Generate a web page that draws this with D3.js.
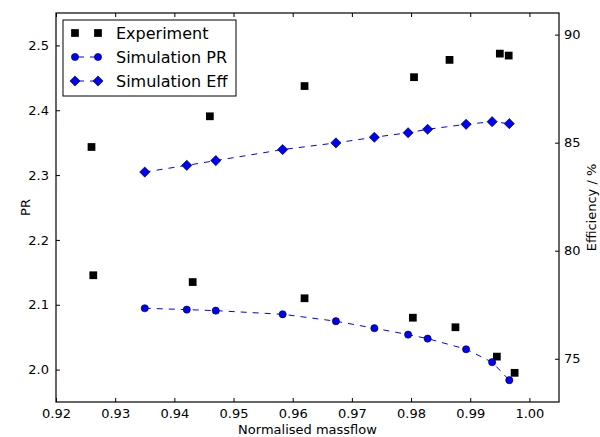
<!DOCTYPE html>
<html>
<head>
<meta charset="utf-8">
<script src="https://d3js.org/d3.v7.min.js"></script>
<style>
  body { margin: 0; background: #fff; }
  svg text { font-family: "DejaVu Sans", sans-serif; fill: #000; }
  .axis path, .axis line { stroke: #000; }
</style>
</head>
<body>
<div id="chart"></div>
<script>
// Experiment points (PR on left axis, efficiency on right axis)
var expPRFlow = [0.9263, 0.9431, 0.9620, 0.9803, 0.9875, 0.9945, 0.9975];
var expPR     = [2.1455, 2.135, 2.110, 2.080, 2.0653, 2.020, 1.995];
var expEffFlow = [0.9260, 0.9460, 0.9620, 0.9805, 0.9865, 0.9950, 0.9965];
var expEff     = [84.80, 86.22, 87.62, 88.03, 88.83, 89.12, 89.03];

// Simulation points
var simFlow = [0.9350, 0.9421, 0.9470, 0.9583, 0.9673, 0.9738, 0.9795, 0.9828, 0.9893, 0.9937, 0.9966];
var simPR   = [2.0946, 2.0925, 2.0909, 2.0853, 2.0746, 2.0638, 2.0540, 2.0478, 2.0314, 2.0114, 1.9837];
var simEff  = [83.64, 83.95, 84.17, 84.68, 84.99, 85.25, 85.46, 85.62, 85.85, 85.97, 85.88];

var xTicks = [0.92, 0.93, 0.94, 0.95, 0.96, 0.97, 0.98, 0.99, 1.00];
var prTicks = [2.0, 2.1, 2.2, 2.3, 2.4, 2.5];
var effTicks = [75, 80, 85, 90];

var W = 600, H = 437;
var margin = {top: 13, right: 41, bottom: 35, left: 56};
var width = W - margin.left - margin.right,
    height = H - margin.top - margin.bottom;

var svg = d3.select("#chart").append("svg")
    .attr("width", W)
    .attr("height", H);

var g = svg.append("g")
    .attr("transform", "translate(" + margin.left + "," + margin.top + ")");

var x = d3.scaleLinear().domain([0.92, 1.005]).range([0, width]);
var yPR = d3.scaleLinear().domain([1.95, 2.55]).range([height, 0]);
var yEff = d3.scaleLinear().domain([73, 91]).range([height, 0]);

// axes, ticks pointing inward
g.append("g").attr("class", "axis")
    .attr("transform", "translate(0," + height + ")")
    .call(d3.axisBottom(x).tickValues(xTicks).tickFormat(d3.format(".2f"))
        .tickSizeInner(-4).tickSizeOuter(0).tickPadding(7));
g.append("g").attr("class", "axis")
    .call(d3.axisTop(x).tickValues(xTicks).tickFormat("")
        .tickSizeInner(-4).tickSizeOuter(0));
g.append("g").attr("class", "axis")
    .call(d3.axisLeft(yPR).tickValues(prTicks).tickFormat(d3.format(".1f"))
        .tickSizeInner(-4).tickSizeOuter(0).tickPadding(7));
g.append("g").attr("class", "axis")
    .attr("transform", "translate(" + width + ",0)")
    .call(d3.axisRight(yEff).tickValues(effTicks)
        .tickSizeInner(-4).tickSizeOuter(0).tickPadding(5));

g.selectAll(".axis text").style("font-size", "13px");
g.selectAll(".axis path").remove();

// frame
g.append("rect")
    .attr("width", width).attr("height", height)
    .attr("fill", "none").attr("stroke", "#000").attr("stroke-width", 1.2);

// axis labels
svg.append("text")
    .attr("x", margin.left + width / 2).attr("y", 434)
    .attr("text-anchor", "middle").style("font-size", "13px")
    .text("Normalised massflow");
svg.append("text")
    .attr("transform", "translate(30," + (margin.top + height / 2) + ") rotate(-90)")
    .attr("text-anchor", "middle").style("font-size", "13px")
    .text("PR");
svg.append("text")
    .attr("transform", "translate(596," + (margin.top + height / 2) + ") rotate(-90)")
    .attr("text-anchor", "middle").style("font-size", "13px")
    .text("Efficiency / %");

var simPRData = simFlow.map(function(f, i) { return {x: f, y: simPR[i]}; });
var simEffData = simFlow.map(function(f, i) { return {x: f, y: simEff[i]}; });

// dashed lines
g.append("path")
    .datum(simPRData)
    .attr("fill", "none").attr("stroke", "#0000ff").attr("stroke-width", 1)
    .attr("stroke-dasharray", "6,6")
    .attr("d", d3.line().x(function(d) { return x(d.x); }).y(function(d) { return yPR(d.y); }));
g.append("path")
    .datum(simEffData)
    .attr("fill", "none").attr("stroke", "#0000ff").attr("stroke-width", 1)
    .attr("stroke-dasharray", "6,6")
    .attr("d", d3.line().x(function(d) { return x(d.x); }).y(function(d) { return yEff(d.y); }));

var sq = d3.symbol().type(d3.symbolSquare).size(60);
var dia = d3.symbol().type(d3.symbolSquare).size(52);  // rotated 45deg below

// experiment squares
g.selectAll(".expPR").data(expPRFlow).enter().append("path")
    .attr("d", sq)
    .attr("transform", function(d, i) { return "translate(" + x(d) + "," + yPR(expPR[i]) + ")"; })
    .attr("fill", "#000");
g.selectAll(".expEff").data(expEffFlow).enter().append("path")
    .attr("d", sq)
    .attr("transform", function(d, i) { return "translate(" + x(d) + "," + yEff(expEff[i]) + ")"; })
    .attr("fill", "#000");

// simulation markers
g.selectAll(".simPR").data(simPRData).enter().append("circle")
    .attr("cx", function(d) { return x(d.x); })
    .attr("cy", function(d) { return yPR(d.y); })
    .attr("r", 3.6)
    .attr("fill", "#0000ff").attr("stroke", "#000").attr("stroke-width", 0.6);
g.selectAll(".simEff").data(simEffData).enter().append("path")
    .attr("d", dia)
    .attr("transform", function(d) { return "translate(" + x(d.x) + "," + yEff(d.y) + ") rotate(45)"; })
    .attr("fill", "#0000ff").attr("stroke", "#000").attr("stroke-width", 0.6);

// legend
var legend = svg.append("g").attr("transform", "translate(63,20)");
legend.append("rect")
    .attr("width", 173).attr("height", 76)
    .attr("fill", "#fff").attr("stroke", "#000").attr("stroke-width", 1);

var labels = ["Experiment", "Simulation PR", "Simulation Eff"];
labels.forEach(function(lab, i) {
    var ry = 13 + i * 24;
    var row = legend.append("g").attr("transform", "translate(0," + ry + ")");
    if (i > 0) {
        row.append("line")
            .attr("x1", 12).attr("x2", 35).attr("y1", 0).attr("y2", 0)
            .attr("stroke", "#0000ff").attr("stroke-width", 1)
            .attr("stroke-dasharray", "6,6").attr("stroke-dashoffset", -3);
    }
    [12, 35].forEach(function(mx) {
        if (i === 0) {
            row.append("path").attr("d", sq).attr("transform", "translate(" + mx + ",0)").attr("fill", "#000");
        } else if (i === 1) {
            row.append("circle").attr("cx", mx).attr("cy", 0).attr("r", 3.6)
                .attr("fill", "#0000ff").attr("stroke", "#000").attr("stroke-width", 0.6);
        } else {
            row.append("path").attr("d", dia).attr("transform", "translate(" + mx + ",0) rotate(45)")
                .attr("fill", "#0000ff").attr("stroke", "#000").attr("stroke-width", 0.6);
        }
    });
    row.append("text")
        .attr("x", 53).attr("y", 0).attr("dy", "0.36em")
        .style("font-size", "16px")
        .text(lab);
});
</script>
</body>
</html>
